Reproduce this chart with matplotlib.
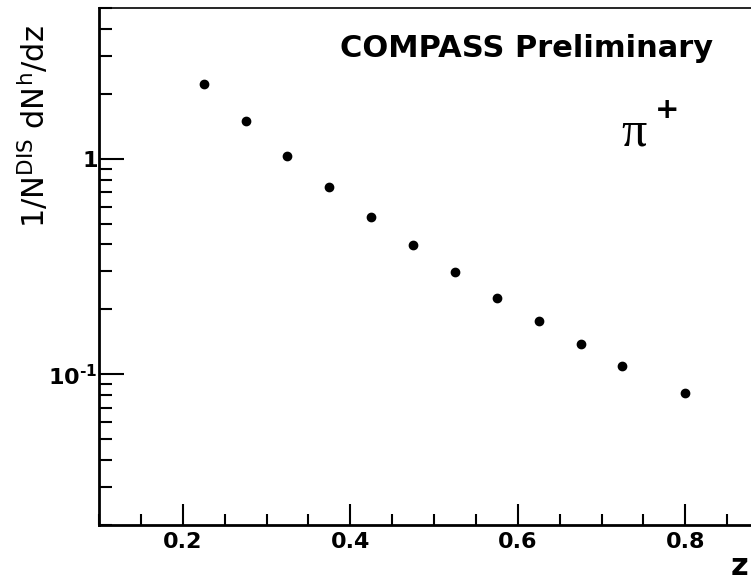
import numpy as np
import matplotlib.pyplot as plt
from matplotlib.ticker import FixedLocator, MultipleLocator, NullFormatter

plt.rcParams['font.family'] = ['DejaVu Sans']
plt.rcParams['mathtext.fontset'] = 'dejavusans'

# data (pi+ multiplicities vs z)
z = [0.225, 0.275, 0.325, 0.375, 0.425, 0.475, 0.525, 0.575, 0.625, 0.675, 0.725, 0.8]
mult = [2.21, 1.49, 1.03, 0.742, 0.538, 0.396, 0.297, 0.227, 0.176, 0.138, 0.109, 0.0817]

x_major = [0.2, 0.4, 0.6, 0.8]
x_labels = ['0.2', '0.4', '0.6', '0.8']
y_major = [0.1, 1.0]
y_labels = ['$\\mathbf{10^{\u2010 1}}$', '1']

fig = plt.figure(figsize=(7.51, 5.82), dpi=100)
ax = fig.add_axes([99 / 751, 57 / 582, 652 / 751, 517 / 582])

ax.plot(z, mult, 'o', color='black', markersize=6)

ax.set_yscale('log')
ax.set_xlim(0.1, 0.8785)
ax.set_ylim(0.02, 5.0)

ax.xaxis.set_major_locator(FixedLocator(x_major))
ax.set_xticklabels(x_labels, fontsize=16, fontweight='bold')
ax.xaxis.set_minor_locator(MultipleLocator(0.05))
ax.yaxis.set_major_locator(FixedLocator(y_major))
ax.set_yticklabels(y_labels, fontsize=16, fontweight='bold')
ax.yaxis.set_minor_locator(FixedLocator(
    [k * 10.0 ** e for e in (-2, -1, 0) for k in range(2, 10)]))
ax.yaxis.set_minor_formatter(NullFormatter())

ax.tick_params(which='both', direction='in', top=False, right=False, width=1.5)
ax.tick_params(axis='x', which='major', length=15, pad=5)
ax.tick_params(axis='x', which='minor', length=8)
ax.tick_params(axis='y', which='major', length=18, pad=1)
ax.tick_params(axis='y', which='minor', length=9)

for side in ('left', 'bottom'):
    ax.spines[side].set_linewidth(2)
ax.spines['top'].set_linewidth(1.2)
ax.spines['right'].set_visible(False)

ax.text(-0.10, 0.771, r'1/N$^{\rm DIS}$ dN$^{\rm h}$/dz', transform=ax.transAxes,
        rotation=90, ha='center', va='center', fontsize=22)

fig.text(527 / 751, 1 - 57 / 582, 'COMPASS Preliminary', ha='center', va='baseline',
         fontsize=22, fontweight='bold')
fig.text(621 / 751, 1 - 146 / 582, 'π', ha='left', va='baseline',
         fontsize=36, family='Liberation Serif')
fig.text(655 / 751, 1 - 118 / 582, '+', ha='left', va='baseline',
         fontsize=21, fontweight='bold')
fig.text(748 / 751, 1 / 582, 'z', ha='right', va='bottom',
         fontsize=22, fontweight='bold')

fig.savefig('out.png', dpi=100)
